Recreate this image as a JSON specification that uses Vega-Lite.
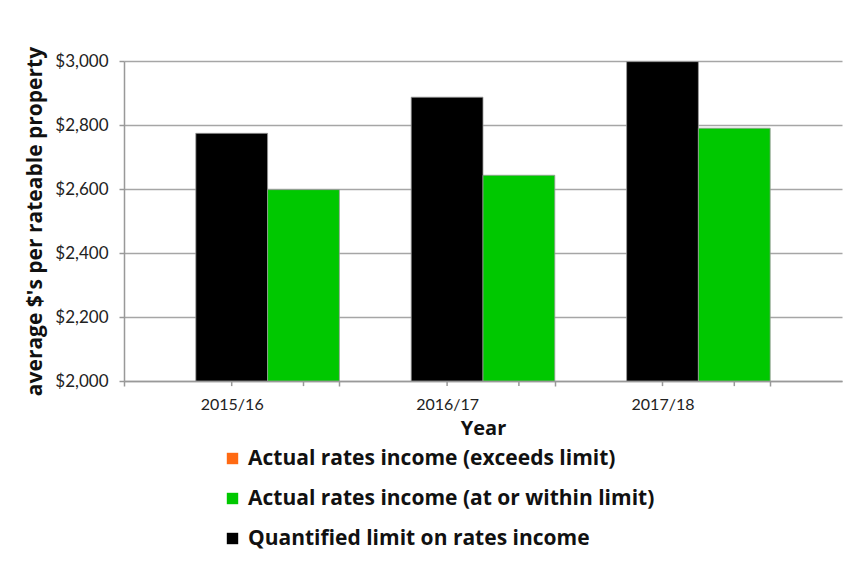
{
  "$schema": "https://vega.github.io/schema/vega-lite/v6.json",
  "width": 718,
  "height": 320,
  "autosize": {"type": "none"},
  "padding": {"left": 124, "top": 61, "right": 19, "bottom": 188},
  "background": "white",
  "data": {
    "values": [
      {"year": "2015/16", "series": "Quantified limit on rates income", "value": 2774},
      {"year": "2015/16", "series": "Actual rates income (at or within limit)", "value": 2598},
      {"year": "2016/17", "series": "Quantified limit on rates income", "value": 2887},
      {"year": "2016/17", "series": "Actual rates income (at or within limit)", "value": 2643},
      {"year": "2017/18", "series": "Quantified limit on rates income", "value": 2998},
      {"year": "2017/18", "series": "Actual rates income (at or within limit)", "value": 2790}
    ]
  },
  "config": {
    "font": "Lato",
    "view": {"stroke": null},
    "axis": {"labelFont": "Lato", "titleFont": "Open Sans", "labelColor": "#222222", "titleColor": "#111111"}
  },
  "layer": [
    {
      "mark": {"type": "bar", "stroke": "#9a9a9a", "strokeWidth": 0.8},
      "encoding": {
        "x": {
          "field": "year",
          "type": "nominal",
          "scale": {"paddingInner": 0, "paddingOuter": 0.16667, "align": 0},
          "axis": {
            "title": "Year",
            "titleFontSize": 20,
            "titleFontWeight": "bold",
            "titlePadding": 6,
            "labelAngle": 0,
            "labelFontSize": 16,
            "labelPadding": 10,
            "tickBand": "extent",
            "tickSize": 5,
            "tickColor": "#999999",
            "tickWidth": 1.5,
            "domainColor": "#999999",
            "domainWidth": 1.5,
            "grid": false
          }
        },
        "xOffset": {
          "field": "series",
          "type": "nominal",
          "scale": {
            "domain": ["Actual rates income (exceeds limit)", "Quantified limit on rates income", "Actual rates income (at or within limit)"],
            "paddingInner": 0,
            "paddingOuter": 0
          }
        },
        "y": {
          "field": "value",
          "type": "quantitative",
          "scale": {"domain": [2000, 3000], "zero": false, "nice": false},
          "axis": {
            "title": "average $'s per rateable property",
            "titleFontSize": 21,
            "titleFontWeight": "bold",
            "titlePadding": 9,
            "values": [2000, 2200, 2400, 2600, 2800, 3000],
            "format": "$,.0f",
            "labelFontSize": 17,
            "labelPadding": 11,
            "tickSize": 5,
            "tickColor": "#999999",
            "tickWidth": 1.5,
            "domainColor": "#999999",
            "domainWidth": 1.5,
            "gridColor": "#a6a6a6",
            "gridWidth": 1.5
          }
        },
        "y2": {"datum": 2000},
        "color": {
          "field": "series",
          "type": "nominal",
          "scale": {
            "domain": ["Actual rates income (exceeds limit)", "Actual rates income (at or within limit)", "Quantified limit on rates income"],
            "range": ["#FF6A13", "#00C800", "#000000"]
          },
          "legend": {
            "title": null,
            "orient": "none",
            "legendX": 98,
            "legendY": 387,
            "padding": 0,
            "symbolType": "square",
            "symbolSize": 130,
            "symbolStrokeWidth": 0,
            "labelFontSize": 21,
            "labelFontWeight": "bold",
            "labelColor": "#111111",
            "labelFont": "Open Sans",
            "labelOffset": 5,
            "rowPadding": 18,
            "labelLimit": 600
          }
        }
      }
    },
    {
      "mark": {"type": "rule", "color": "#999999", "strokeWidth": 1.5},
      "encoding": {
        "x": {"field": "year", "type": "nominal", "bandPosition": 0},
        "xOffset": {"field": "series", "type": "nominal"},
        "y": {"datum": 2000},
        "y2": {"datum": 1984}
      }
    }
  ]
}
